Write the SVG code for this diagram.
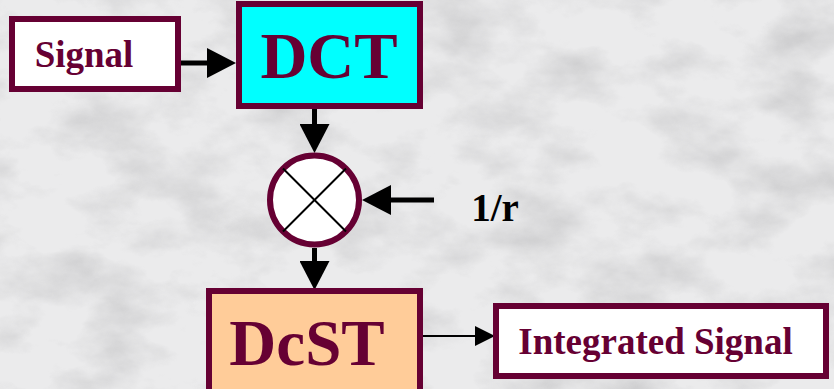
<svg xmlns="http://www.w3.org/2000/svg" width="834" height="389" viewBox="0 0 834 389">
  <defs>
    <filter id="marble" x="0" y="0" width="100%" height="100%">
      <feTurbulence type="fractalNoise" baseFrequency="0.012 0.02" numOctaves="5" seed="7" result="n"/>
      <feColorMatrix in="n" type="matrix" values="0 0 0 0 0.5  0 0 0 0 0.5  0 0 0 0 0.51  -1.9 0 0 0 1.1" />
    </filter>
    <marker id="big" markerUnits="userSpaceOnUse" viewBox="0 0 29 30" refX="0" refY="15" markerWidth="29" markerHeight="30" orient="auto">
      <path d="M0,0 L29,15 L0,30 Z" fill="#000"/>
    </marker>
    <marker id="small" markerUnits="userSpaceOnUse" viewBox="0 0 20 20" refX="0" refY="10" markerWidth="20" markerHeight="20" orient="auto">
      <path d="M0,0 L20,10 L0,20 Z" fill="#000"/>
    </marker>
  </defs>
  <style>
    .box { stroke: #660033; stroke-width: 6; }
    .lbl { font-family: "Liberation Serif", "Times New Roman", serif; font-weight: bold; fill: #660033; text-anchor: middle; }
    .conn { stroke: #000; fill: none; }
    .thick { stroke-width: 5; marker-end: url(#big); }
    .thin { stroke-width: 2; marker-end: url(#small); }
  </style>
  <rect width="834" height="389" fill="#ebebec"/>
  <rect width="834" height="389" filter="url(#marble)" opacity="0.7"/>

  <g id="connectors">
    <line class="conn thick" x1="181" y1="63" x2="207" y2="63"/>
    <line class="conn thick" x1="314.5" y1="109" x2="314.5" y2="124"/>
    <line class="conn thick" x1="434" y1="200" x2="391" y2="200"/>
    <line class="conn thick" x1="314.5" y1="248" x2="314.5" y2="261"/>
    <line class="conn thin" x1="423" y1="336" x2="475" y2="336"/>
  </g>

  <g id="signal">
    <rect class="box" x="12" y="19" width="166" height="70" fill="#ffffff"/>
    <text class="lbl" x="84" y="67" font-size="37">Signal</text>
  </g>

  <g id="dct">
    <rect class="box" x="239" y="4" width="181" height="102" fill="#00ffff"/>
    <text class="lbl" x="329" y="78" font-size="65">DCT</text>
  </g>

  <g id="multiplier">
    <circle cx="314.5" cy="200" r="44.5" fill="#ffffff" stroke="#660033" stroke-width="6"/>
    <line x1="283" y1="168.5" x2="346" y2="231.5" stroke="#000" stroke-width="2"/>
    <line x1="346" y1="168.5" x2="283" y2="231.5" stroke="#000" stroke-width="2"/>
  </g>

  <g id="r-input">
    <text class="lbl" x="495" y="221" font-size="39" style="fill:#000">1/r</text>
  </g>

  <g id="dcst">
    <rect class="box" x="209" y="291" width="211" height="120" fill="#ffcc99"/>
    <text class="lbl" x="307" y="365" font-size="65">DcST</text>
  </g>

  <g id="integrated">
    <rect class="box" x="496" y="306" width="330" height="70" fill="#ffffff"/>
    <text class="lbl" x="655.5" y="354" font-size="37">Integrated Signal</text>
  </g>
</svg>
